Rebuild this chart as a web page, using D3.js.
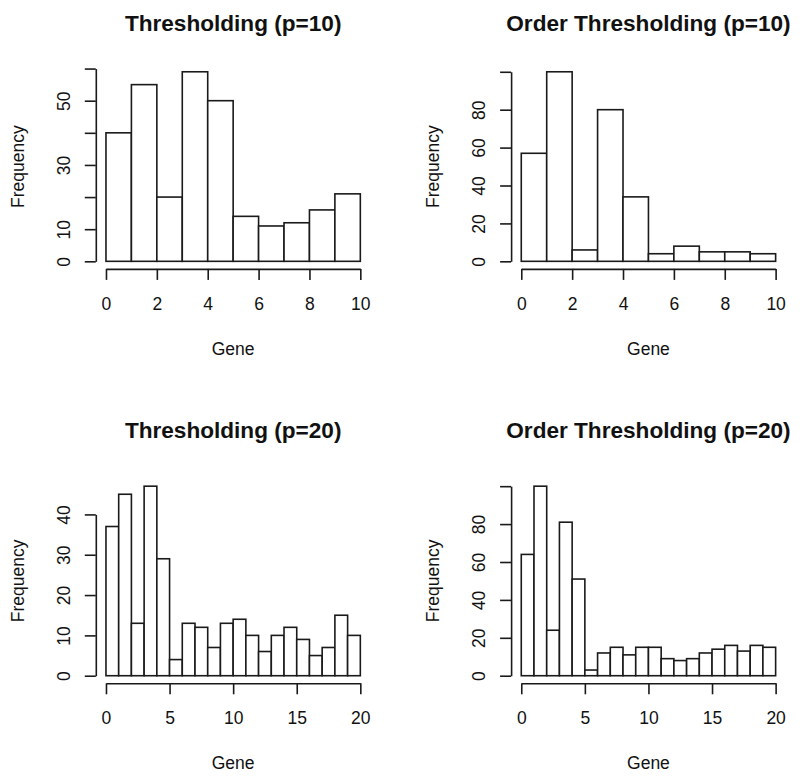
<!DOCTYPE html>
<html>
<head>
<meta charset="utf-8">
<script src="https://cdn.jsdelivr.net/npm/d3@7"></script>
<style>
  body { margin: 0; background: #fff; }
  svg { display: block; }
  text { font-family: "Liberation Sans", Arial, Helvetica, sans-serif; fill: #111; }
</style>
</head>
<body>
<svg id="chart" width="800" height="780"></svg>
<script>
// ---- Data ----
const titles = ["Thresholding (p=10)", "Order Thresholding (p=10)", "Thresholding (p=20)", "Order Thresholding (p=20)"];
const countsThr10 = [40, 55, 20, 59, 50, 14, 11, 12, 16, 21];
const countsOrd10 = [57, 100, 6, 80, 34, 4, 8, 5, 5, 4];
const countsThr20 = [37, 45, 13, 47, 29, 4, 13, 12, 7, 13, 14, 10, 6, 10, 12, 9, 5, 7, 15, 10];
const countsOrd20 = [64, 100, 24, 81, 51, 3, 12, 15, 11, 15, 15, 9, 8, 9, 12, 14, 16, 13, 16, 15];
const xTicks10 = [0, 2, 4, 6, 8, 10];
const xTicks20 = [0, 5, 10, 15, 20];
const yTicksThr10 = [0, 10, 20, 30, 40, 50, 60];
const yLabelsThr10 = [0, 10, 30, 50];
const yTicksOrd = [0, 20, 40, 60, 80, 100];
const yLabelsOrd = [0, 20, 40, 60, 80];
const yTicksThr20 = [0, 10, 20, 30, 40];
const yLabelsThr20 = [0, 10, 20, 30, 40];
const xLabel = "Gene";
const yLabel = "Frequency";

const panels = [
  { title: titles[0], counts: countsThr10, xTicks: xTicks10, yTicks: yTicksThr10, yLabels: yLabelsThr10, col: 0, row: 0 },
  { title: titles[1], counts: countsOrd10, xTicks: xTicks10, yTicks: yTicksOrd, yLabels: yLabelsOrd, col: 1, row: 0 },
  { title: titles[2], counts: countsThr20, xTicks: xTicks20, yTicks: yTicksThr20, yLabels: yLabelsThr20, col: 0, row: 1 },
  { title: titles[3], counts: countsOrd20, xTicks: xTicks20, yTicks: yTicksOrd, yLabels: yLabelsOrd, col: 1, row: 1 }
];

// ---- Layout (plot regions) ----
const colLeft = [95.8, 511.1];
const plotW = 274.7;
const rowTop = [64.2, 478.6];
const plotH = 204.7;
const titleBase = [31, 438];

const svg = d3.select("#chart");
const stroke = "#1a1a1a";
const lw = 1.6;

panels.forEach(p => {
  const L = colLeft[p.col], T = rowTop[p.row];
  const R = L + plotW, B = T + plotH;
  const n = p.counts.length;
  const maxC = d3.max(p.counts);
  // R style 4% extension
  const x = d3.scaleLinear().domain([-0.04 * n, n * 1.04]).range([L, R]);
  const y = d3.scaleLinear().domain([-0.04 * maxC, maxC * 1.04]).range([B, T]);

  const g = svg.append("g");

  // bars
  g.selectAll("rect.bar").data(p.counts).join("rect")
    .attr("class", "bar")
    .attr("x", (d, i) => x(i))
    .attr("width", (d, i) => x(i + 1) - x(i))
    .attr("y", d => y(d))
    .attr("height", d => y(0) - y(d))
    .attr("fill", "#fff")
    .attr("stroke", stroke)
    .attr("stroke-width", lw);

  // x axis
  const xMin = d3.min(p.xTicks), xMax = d3.max(p.xTicks);
  const xa = d3.scaleLinear().domain([xMin, xMax]).range([x(xMin), x(xMax)]);
  const gx = g.append("g").attr("transform", `translate(0,${B})`)
    .call(d3.axisBottom(xa).tickValues(p.xTicks).tickSize(11).tickSizeOuter(0).tickFormat(d3.format("d")));
  gx.select(".domain").attr("stroke", stroke).attr("stroke-width", lw);
  gx.selectAll(".tick line").attr("stroke", stroke).attr("stroke-width", lw);
  gx.selectAll(".tick text").attr("y", 41).attr("dy", null)
    .style("font-size", "17.5px").style("font-family", "'Liberation Sans', Arial, sans-serif").attr("fill", "#111");

  // y axis
  const yMax = d3.max(p.yTicks);
  const ya = d3.scaleLinear().domain([0, yMax]).range([y(0), y(yMax)]);
  const gy = g.append("g").attr("transform", `translate(${L},0)`)
    .call(d3.axisLeft(ya).tickValues(p.yTicks).tickSize(11).tickSizeOuter(0)
      .tickFormat(d => p.yLabels.includes(d) ? String(d) : ""));
  gy.select(".domain").attr("stroke", stroke).attr("stroke-width", lw);
  gy.selectAll(".tick line").attr("stroke", stroke).attr("stroke-width", lw);
  gy.selectAll(".tick text")
    .attr("x", null).attr("dy", null)
    .attr("text-anchor", "middle")
    .attr("transform", "translate(-26.3,0) rotate(-90)")
    .style("font-size", "17.5px").style("font-family", "'Liberation Sans', Arial, sans-serif").attr("fill", "#111");

  // title
  g.append("text")
    .attr("x", (L + R) / 2).attr("y", titleBase[p.row])
    .attr("text-anchor", "middle")
    .style("font-size", "22.6px").style("font-weight", "bold")
    .text(p.title);

  // x label
  g.append("text")
    .attr("x", (L + R) / 2).attr("y", B + 86)
    .attr("text-anchor", "middle")
    .style("font-size", "17.5px")
    .text(xLabel);

  // y label
  g.append("text")
    .attr("transform", `translate(${L - 71.8},${(T + B) / 2}) rotate(-90)`)
    .attr("text-anchor", "middle")
    .style("font-size", "17.5px")
    .text(yLabel);
});
</script>
</body>
</html>
